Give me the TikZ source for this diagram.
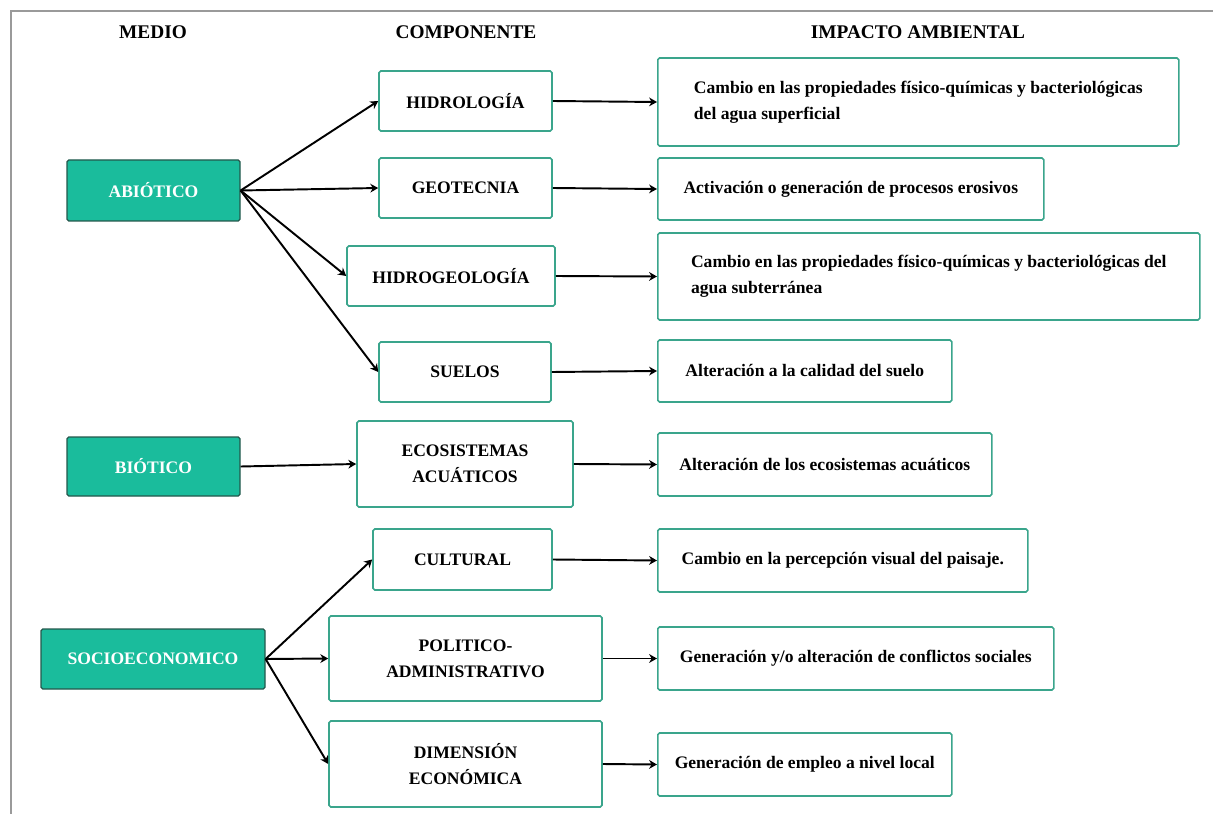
\documentclass[tikz,border=0pt]{standalone}
\usepackage{fontspec}
\setmainfont{Liberation Serif}
\usetikzlibrary{arrows.meta}
\definecolor{verdemedio}{HTML}{1ABC9C}
\definecolor{bordemedio}{HTML}{24574C}
\definecolor{bordecomp}{HTML}{3AA58C}
\definecolor{marco}{HTML}{9A9A9A}
\tikzset{
 medio/.style={draw=bordemedio,fill=verdemedio,text=white,rounded corners=1pt,line width=0.7pt,
  font=\bfseries\fontsize{10}{15}\selectfont},
 comp/.style={draw=bordecomp,fill=white,rounded corners=1pt,line width=0.9pt,align=center,
  font=\bfseries\fontsize{10}{15}\selectfont},
 impacto/.style={comp,align=left,anchor=west},
 titulo/.style={font=\bfseries\fontsize{11}{13}\selectfont},
 flecha/.style={-{Stealth[length=4.5pt,width=5pt]},line width=1.1pt}
}
\newcommand{\medio}[5]{%
 \node[medio,minimum width=#3*0.02cm,minimum height=#4*0.02cm] ({#1}) at ({#2}) {#5};%
}
\newcommand{\comp}[5]{%
 \node[comp,minimum width=#3*0.02cm,minimum height=#4*0.02cm] ({#1}) at ({#2}) {#5};%
}
\newcommand{\impacto}[5]{%
 \node[impacto,minimum width=#3*0.02cm,minimum height=#4*0.02cm] ({#1}) at ({#2}) {#5};%
}
\begin{document}
\begin{tikzpicture}[x=0.02cm,y=-0.02cm]
   \useasboundingbox (0,0) rectangle (1213,814);
   \draw[marco,line width=0.8pt] (11,814) -- (11,11) -- (1213,11);
   \node[titulo] (t1) at (153,32) {MEDIO};
   \node[titulo] (t2) at (466,32) {COMPONENTE};
   \node[titulo] (t3) at (918,32) {IMPACTO AMBIENTAL};
   % medio
   \medio{abiotico}{153.5,190.5}{173}{61}{ABIÓTICO}
   \medio{biotico}{153.5,466.5}{173}{59}{BIÓTICO}
   \medio{socio}{153,659}{224}{60}{SOCIOECONOMICO}
   % componente
   \comp{hidro}{465.5,101}{173}{60}{HIDROLOGÍA}
   \comp{geo}{465.5,188}{173}{60}{GEOTECNIA}
   \comp{hidrogeo}{451,276}{208}{60}{HIDROGEOLOGÍA}
   \comp{suelos}{465,372}{172}{60}{SUELOS}
   \comp{eco}{465,464}{216}{86}{ECOSISTEMAS\\ACUÁTICOS}
   \comp{cultural}{462.5,559.5}{179}{61}{CULTURAL}
   \comp{politico}{465.5,658.5}{273}{85}{POLITICO-\\ADMINISTRATIVO}
   \comp{economica}{465.5,764}{273}{86}{DIMENSIÓN\\ECONÓMICA}
   % impacto
   \impacto{i1}{657,102}{521}{88}{Cambio en las propiedades físico-químicas y bacteriológicas\\del agua superficial}
   \impacto{i2}{657,189}{386}{62}{Activación o generación de procesos erosivos}
   \impacto{i3}{657,276.5}{542}{87}{Cambio en las propiedades físico-químicas y bacteriológicas del\\agua subterránea}
   \impacto{i4}{657,371}{294}{62}{Alteración a la calidad del suelo}
   \impacto{i5}{657,464.5}{334}{63}{Alteración de los ecosistemas acuáticos}
   \impacto{i6}{657,560.5}{370}{63}{Cambio en la percepción visual del paisaje.}
   \impacto{i7}{657,658.5}{396}{63}{Generación y/o alteración de conflictos sociales}
   \impacto{i8}{657,764.5}{294}{63}{Generación de empleo a nivel local}
   \draw[flecha] (abiotico.east) -- (hidro.west);
   \draw[flecha] (abiotico.east) -- (geo.west);
   \draw[flecha] (abiotico.east) -- (hidrogeo.west);
   \draw[flecha] (abiotico.east) -- (suelos.west);
   \draw[flecha] (biotico.east) -- (eco.west);
   \draw[flecha] (socio.east) -- (cultural.west);
   \draw[flecha] (socio.east) -- (politico.west);
   \draw[flecha] (socio.east) -- (economica.west);
   \draw[flecha] (hidro.east) -- (i1.west);
   \draw[flecha] (geo.east) -- (i2.west);
   \draw[flecha] (hidrogeo.east) -- (i3.west);
   \draw[flecha] (suelos.east) -- (i4.west);
   \draw[flecha] (eco.east) -- (i5.west);
   \draw[flecha] (cultural.east) -- (i6.west);
   \draw[flecha] (politico.east) -- (i7.west);
   \draw[flecha] (economica.east) -- (i8.west);
\end{tikzpicture}
\end{document}
